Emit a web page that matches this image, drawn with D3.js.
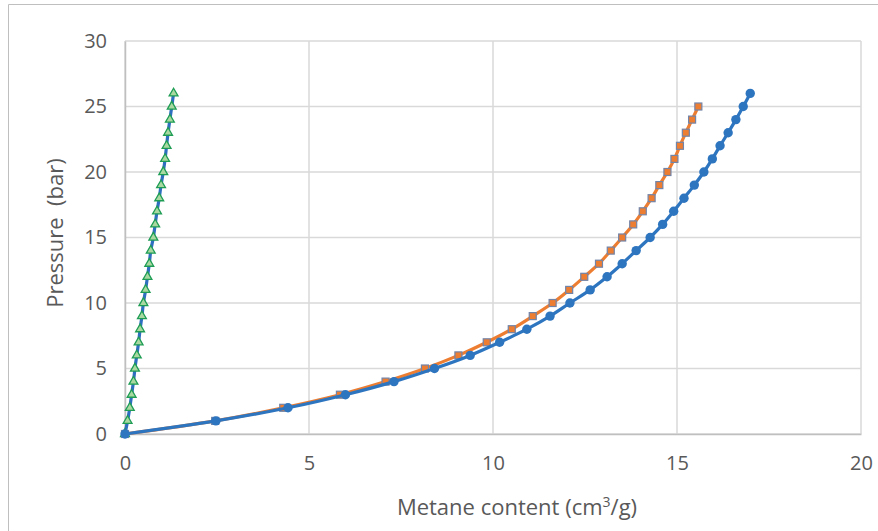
<!DOCTYPE html>
<html><head><meta charset="utf-8">
<script src="https://cdn.jsdelivr.net/npm/d3@7/dist/d3.min.js"></script>
<style>body{margin:0;background:#fff}svg{display:block}</style>
</head><body>
<script>
// Data
const pressure = d3.range(0, 27); // 0..26 bar
const blueX = [0, 2.47, 4.43, 5.99, 7.31, 8.41, 9.38, 10.18, 10.92, 11.55, 12.09, 12.64, 13.10, 13.51, 13.89, 14.27, 14.61, 14.91, 15.19, 15.47, 15.73, 15.96, 16.17, 16.39, 16.60, 16.80, 16.99];
const orangeX = [0, 2.45, 4.30, 5.84, 7.08, 8.15, 9.06, 9.83, 10.51, 11.08, 11.62, 12.07, 12.48, 12.88, 13.20, 13.51, 13.81, 14.07, 14.31, 14.52, 14.74, 14.93, 15.08, 15.24, 15.41, 15.58];
const greenX = [0, 0.07, 0.13, 0.18, 0.23, 0.27, 0.32, 0.37, 0.41, 0.46, 0.50, 0.56, 0.61, 0.66, 0.70, 0.77, 0.82, 0.87, 0.93, 0.98, 1.04, 1.09, 1.13, 1.17, 1.22, 1.27, 1.32];
const xTicks = [0, 5, 10, 15, 20];
const yTicks = [0, 5, 10, 15, 20, 25, 30];

const W = 878, H = 531;
const svg = d3.select("body").append("svg").attr("width", W).attr("height", H);
const font = "'Open Sans', 'Noto Sans', sans-serif";

// outer frame
svg.append("path").attr("d", `M8.5,${H+2} L8.5,4.5 L${W+2},4.5`).attr("fill", "none").attr("stroke", "#bfbfbf").attr("stroke-width", 1);

const x = d3.scaleLinear().domain([0, 20]).range([125, 861]);
const y = d3.scaleLinear().domain([0, 30]).range([434, 41]);

// gridlines
const g = svg.append("g");
g.selectAll(".vg").data(xTicks).join("line")
  .attr("x1", d => x(d)).attr("x2", d => x(d)).attr("y1", y(0)).attr("y2", y(30))
  .attr("stroke", "#d9d9d9").attr("stroke-width", 1.5);
g.selectAll(".hg").data(yTicks).join("line")
  .attr("x1", x(0)).attr("x2", x(20)).attr("y1", d => y(d)).attr("y2", d => y(d))
  .attr("stroke", "#d9d9d9").attr("stroke-width", 1.5);

// axes
const xAxis = d3.axisBottom(x).tickValues(xTicks).tickSize(0).tickPadding(22);
const yAxis = d3.axisLeft(y).tickValues(yTicks).tickSize(0).tickPadding(18);
const gx = svg.append("g").attr("transform", `translate(0,${y(0)})`).call(xAxis);
const gy = svg.append("g").attr("transform", `translate(${x(0)},0)`).call(yAxis);
[gx, gy].forEach(a => {
  a.select(".domain").attr("stroke", "#bfbfbf").attr("stroke-width", 1.5);
  a.selectAll("text").attr("fill", "#595959").style("font-family", font).style("font-size", "20px");
});

// axis titles
svg.append("text").attr("x", 517).attr("y", 515).attr("text-anchor", "middle")
  .attr("fill", "#595959").style("font-family", font).style("font-size", "22px")
  .html('Metane content (cm<tspan dy="-8" font-size="14px">3</tspan><tspan dy="8">/g)</tspan>');
svg.append("text").attr("transform", `translate(63,233) rotate(-90)`).attr("text-anchor", "middle")
  .attr("fill", "#595959").style("font-family", font).style("font-size", "22px")
  .attr("xml:space", "preserve").text("Pressure  (bar)");

const line = d3.line().curve(d3.curveCatmullRom.alpha(0.5));

function series(xs, color) {
  const pts = xs.map((v, i) => [x(v), y(pressure[i])]);
  svg.append("path").attr("d", line(pts)).attr("fill", "none")
    .attr("stroke", color).attr("stroke-width", 3.2).attr("stroke-linejoin", "round");
  return pts;
}

// green series (blue line with triangles)
const gp = series(greenX, "#2e6fc0");
const tri = d3.symbol().type(d3.symbolTriangle).size(34);
svg.append("g").selectAll("path").data(gp).join("path")
  .attr("transform", d => `translate(${d[0]},${d[1]})`).attr("d", tri)
  .attr("fill", "#a9d9a0").attr("stroke", "#1f9d55").attr("stroke-width", 1.3);

// orange series
const op = series(orangeX, "#ed7d31");
svg.append("g").selectAll("rect").data(op).join("rect")
  .attr("x", d => d[0] - 3.5).attr("y", d => d[1] - 3.5).attr("width", 7).attr("height", 7)
  .attr("fill", "#ed7d31").attr("stroke", "#7284a8").attr("stroke-width", 1.2);

// blue series
const bp = series(blueX, "#2e75c0");
svg.append("g").selectAll("circle").data(bp).join("circle")
  .attr("cx", d => d[0]).attr("cy", d => d[1]).attr("r", 4.7)
  .attr("fill", "#2e75c0");
</script>
</body></html>
